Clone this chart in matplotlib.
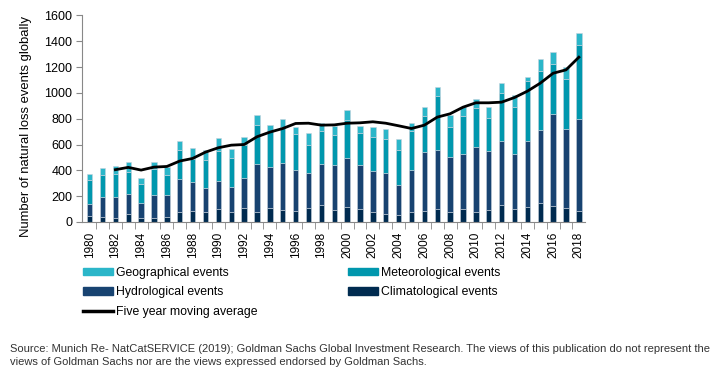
import matplotlib
matplotlib.use("Agg")
import matplotlib.pyplot as plt
from matplotlib.lines import Line2D
from matplotlib.patches import Patch
import numpy as np

years = list(range(1980, 2019))

# values (cumulative tops converted to segment sizes below)
climatological = [44, 39, 34, 62, 28, 34, 39, 77, 82, 77, 98, 75, 106, 77, 106,
                  95, 85, 111, 129, 95, 113, 98, 77, 62, 54, 77, 88, 100, 80, 98,
                  77, 95, 129, 103, 116, 144, 121, 106, 88]
hydro_top = [139, 191, 191, 216, 149, 211, 206, 330, 307, 265, 314, 273, 343, 446, 423,
             454, 399, 376, 446, 438, 497, 438, 397, 376, 289, 402, 539, 559, 500, 526,
             582, 546, 624, 526, 629, 709, 837, 722, 794]
meteo_top = [322, 361, 371, 384, 294, 410, 366, 559, 490, 482, 546, 492, 595, 752, 705,
             732, 680, 598, 701, 670, 791, 688, 655, 639, 559, 701, 822, 977, 737, 822,
             879, 809, 1002, 887, 1088, 1170, 1224, 1106, 1374]
total = [374, 415, 436, 464, 343, 464, 423, 629, 572, 557, 647, 567, 662, 832, 750,
         796, 732, 691, 768, 745, 866, 745, 737, 719, 639, 768, 894, 1049, 825, 889,
         953, 889, 1080, 982, 1126, 1260, 1317, 1203, 1466]
moving_avg = [405, 423, 402, 425, 430, 472, 492, 541, 575, 595, 600, 660, 696,
              724, 763, 765, 750, 752, 765, 768, 776, 765, 745, 724, 750, 812, 838, 889,
              923, 923, 928, 964, 1013, 1075, 1152, 1178, 1276]

hydrological = np.array(hydro_top) - np.array(climatological)
meteorological = np.array(meteo_top) - np.array(hydro_top)
geographical = np.array(total) - np.array(meteo_top)

c_geo = "#2bb6c9"
c_met = "#0097ad"
c_hyd = "#184371"
c_cli = "#002b50"

plt.rcParams["font.family"] = ["Liberation Sans", "DejaVu Sans"]

fig = plt.figure(figsize=(7.28, 3.75), dpi=100)
ax = fig.add_axes([0.113, 0.408, 0.691, 0.551])

x = np.arange(len(years))
w = 0.42
ec = "#c8d2dc"
lw = 0.4
ax.bar(x, climatological, w, color=c_cli, edgecolor=ec, linewidth=lw)
ax.bar(x, hydrological, w, bottom=climatological, color=c_hyd, edgecolor=ec, linewidth=lw)
ax.bar(x, meteorological, w, bottom=hydro_top, color=c_met, edgecolor=ec, linewidth=lw)
ax.bar(x, geographical, w, bottom=meteo_top, color=c_geo, edgecolor=ec, linewidth=lw)
ax.plot(x[2:], moving_avg, color="black", linewidth=2)

ax.set_xlim(-0.57, len(years) - 0.5)
ax.set_ylim(0, 1600)
ax.set_yticks(range(0, 1601, 200))
ax.tick_params(axis="y", labelsize=9, length=4, color="#888888", pad=3)
ax.set_xticks(x[::2])
ax.set_xticklabels([str(y) for y in years[::2]], rotation=90, fontsize=8.5)
ax.set_xticks(x[:-1] + 0.5, minor=True)
ax.tick_params(axis="x", which="major", length=0, pad=7)
ax.tick_params(axis="x", which="minor", length=5, color="#888888")
for s in ["top", "right"]:
    ax.spines[s].set_visible(False)
for s in ["left", "bottom"]:
    ax.spines[s].set_color("#888888")
ax.set_ylabel("Number of natural loss events globally", fontsize=9.4)
ax.yaxis.set_label_coords(-0.1, 0.46)

handles = [Patch(color=c_geo), Patch(color=c_hyd),
           Line2D([0], [0], color="black", linewidth=2.5),
           Patch(color=c_met), Patch(color=c_cli)]
labels = ["Geographical events", "Hydrological events", "Five year moving average",
          "Meteorological events", "Climatological events"]
fig.legend(handles, labels, ncol=2, loc="upper left", bbox_to_anchor=(0.099, 0.318),
           frameon=False, prop={"size": 8.8},
           handlelength=2.45, handleheight=0.55, handletextpad=0.25,
           columnspacing=7.4, labelspacing=0.62, borderpad=0.4)

fig.text(0.014, 0.022,
         "Source: Munich Re- NatCatSERVICE (2019); Goldman Sachs Global Investment Research. "
         "The views of this publication do not represent the\n"
         "views of Goldman Sachs nor are the views expressed endorsed by Goldman Sachs.",
         fontsize=8.0, color="#333333", linespacing=1.35, va="bottom")

fig.savefig("out.png", dpi=100)
